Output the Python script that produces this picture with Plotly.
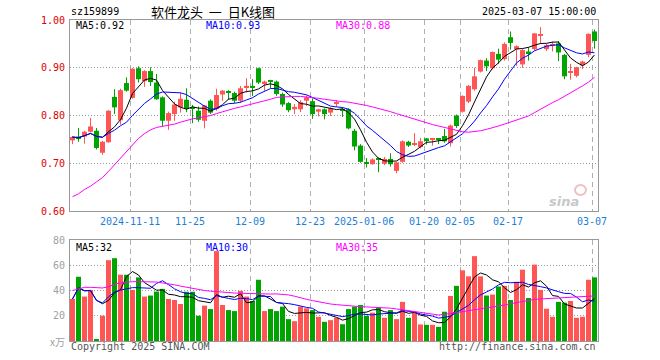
import numpy as np
import pandas as pd
import plotly.graph_objects as go

# ---------------- data ----------------
opens = [0.748, 0.756, 0.756, 0.766, 0.768, 0.722, 0.744, 0.839, 0.790, 0.868,
         0.837, 0.899, 0.872, 0.893, 0.869, 0.838, 0.789, 0.803, 0.817, 0.833,
         0.816, 0.810, 0.789, 0.831, 0.814, 0.844, 0.851, 0.847, 0.831, 0.859,
         0.862, 0.899, 0.867, 0.874, 0.871, 0.845, 0.826, 0.813, 0.813, 0.831,
         0.830, 0.808, 0.813, 0.806, 0.826, 0.813, 0.813, 0.768, 0.737, 0.701,
         0.698, 0.709, 0.699, 0.709, 0.684, 0.703, 0.745, 0.740, 0.734, 0.752,
         0.749, 0.751, 0.757, 0.742, 0.800, 0.808, 0.829, 0.855, 0.892, 0.915,
         0.899, 0.929, 0.918, 0.964, 0.939, 0.907, 0.934, 0.939, 0.968, 0.939,
         0.946, 0.951, 0.927, 0.891, 0.883, 0.905, 0.927, 0.976]
highs = [0.757, 0.774, 0.768, 0.795, 0.774, 0.747, 0.811, 0.855, 0.856, 0.880,
         0.899, 0.903, 0.895, 0.901, 0.887, 0.840, 0.808, 0.829, 0.848, 0.857,
         0.822, 0.819, 0.822, 0.834, 0.856, 0.853, 0.853, 0.850, 0.862, 0.878,
         0.876, 0.900, 0.873, 0.875, 0.873, 0.848, 0.828, 0.824, 0.832, 0.842,
         0.836, 0.814, 0.815, 0.817, 0.832, 0.817, 0.815, 0.772, 0.740, 0.711,
         0.710, 0.712, 0.713, 0.721, 0.703, 0.748, 0.747, 0.763, 0.753, 0.753,
         0.753, 0.752, 0.772, 0.781, 0.802, 0.842, 0.864, 0.900, 0.917, 0.920,
         0.934, 0.940, 0.953, 0.976, 0.947, 0.939, 0.943, 0.973, 0.985, 0.950,
         0.955, 0.956, 0.929, 0.908, 0.902, 0.915, 0.972, 0.980]
lows = [0.740, 0.745, 0.741, 0.765, 0.729, 0.718, 0.743, 0.803, 0.781, 0.850,
        0.835, 0.869, 0.860, 0.862, 0.833, 0.777, 0.770, 0.789, 0.806, 0.807,
        0.784, 0.787, 0.773, 0.803, 0.810, 0.831, 0.833, 0.826, 0.826, 0.848,
        0.841, 0.866, 0.852, 0.857, 0.841, 0.818, 0.807, 0.803, 0.807, 0.820,
        0.793, 0.798, 0.792, 0.799, 0.818, 0.797, 0.771, 0.727, 0.701, 0.691,
        0.697, 0.681, 0.696, 0.693, 0.679, 0.701, 0.734, 0.736, 0.731, 0.739,
        0.737, 0.740, 0.743, 0.735, 0.774, 0.806, 0.826, 0.852, 0.890, 0.893,
        0.897, 0.908, 0.915, 0.938, 0.904, 0.900, 0.915, 0.936, 0.950, 0.935,
        0.934, 0.914, 0.876, 0.875, 0.880, 0.897, 0.922, 0.940]
closes = [0.755, 0.752, 0.766, 0.777, 0.732, 0.745, 0.810, 0.817, 0.853, 0.852,
          0.898, 0.876, 0.893, 0.870, 0.834, 0.789, 0.805, 0.823, 0.835, 0.814,
          0.814, 0.791, 0.821, 0.806, 0.843, 0.852, 0.849, 0.831, 0.857, 0.862,
          0.859, 0.869, 0.871, 0.871, 0.845, 0.823, 0.811, 0.818, 0.828, 0.838,
          0.803, 0.813, 0.803, 0.815, 0.828, 0.811, 0.773, 0.735, 0.703, 0.699,
          0.708, 0.707, 0.709, 0.698, 0.702, 0.746, 0.737, 0.742, 0.746, 0.748,
          0.751, 0.749, 0.746, 0.779, 0.778, 0.841, 0.862, 0.882, 0.916, 0.903,
          0.933, 0.917, 0.950, 0.952, 0.945, 0.937, 0.930, 0.972, 0.970, 0.947,
          0.949, 0.932, 0.882, 0.893, 0.901, 0.913, 0.971, 0.956]
volumes = [33.3, 50.9, 35.2, 40.5, 1.0, 20.0, 64.0, 65.6, 52.5, 52.5,
           40.5, 50.4, 35.2, 36.0, 39.2, 41.3, 33.3, 32.5, 29.3, 39.0,
           39.0, 20.0, 28.0, 25.3, 71.2, 28.5, 24.5, 23.7, 39.7, 35.2,
           31.7, 48.5, 23.7, 25.3, 23.7, 27.2, 17.3, 15.7, 27.2, 25.9,
           24.5, 19.2, 15.2, 16.5, 18.4, 13.3, 25.3, 27.2, 28.5, 20.0,
           22.4, 26.7, 18.4, 24.5, 17.3, 31.0, 18.4, 22.4, 13.1, 12.8,
           12.8, 11.2, 23.2, 35.7, 43.7, 56.0, 51.2, 67.2, 51.2, 36.0,
           36.8, 43.2, 43.7, 32.5, 46.9, 56.5, 34.1, 60.5, 40.5, 25.6,
           19.2, 31.0, 30.4, 31.7, 18.4, 19.2, 48.5, 50.4]
ma30_price = [0.630, 0.636, 0.645, 0.652, 0.661, 0.670, 0.683, 0.697, 0.711, 0.725,
              0.740, 0.752, 0.762, 0.770, 0.775, 0.777, 0.779, 0.782, 0.786, 0.790,
              0.793, 0.795, 0.797, 0.800, 0.804, 0.808, 0.812, 0.815, 0.818, 0.821,
              0.824, 0.828, 0.831, 0.834, 0.838, 0.839, 0.840, 0.840, 0.840, 0.839,
              0.838, 0.836, 0.834, 0.832, 0.830, 0.829, 0.828, 0.826, 0.823, 0.821,
              0.818, 0.815, 0.812, 0.808, 0.804, 0.800, 0.796, 0.792, 0.788, 0.785,
              0.781, 0.778, 0.775, 0.771, 0.768, 0.766, 0.765, 0.766, 0.768, 0.771,
              0.774, 0.778, 0.782, 0.786, 0.790, 0.794, 0.799, 0.806, 0.813, 0.821,
              0.827, 0.833, 0.840, 0.848, 0.855, 0.862, 0.870, 0.880]
ma30_vol = [40.0, 41.5, 42.5, 42.5, 42.0, 42.0, 43.0, 45.0, 46.0, 46.7,
            47.0, 47.0, 47.0, 47.0, 46.7, 46.0, 45.5, 44.5, 43.5, 42.5,
            41.5, 40.5, 40.0, 39.5, 39.0, 38.5, 38.2, 38.0, 37.8, 37.6,
            37.4, 37.2, 37.1, 37.2, 37.3, 37.2, 36.5, 35.5, 34.0, 33.0,
            32.0, 31.0, 30.0, 29.3, 28.8, 28.3, 27.8, 27.5, 27.2, 27.0,
            26.8, 26.7, 26.3, 26.0, 25.4, 24.8, 24.2, 23.7, 23.0, 22.2,
            21.3, 20.6, 21.0, 21.8, 22.5, 23.2, 24.0, 24.8, 25.6, 26.3,
            27.0, 27.7, 28.5, 29.5, 30.5, 31.5, 32.5, 33.0, 33.3, 33.6,
            33.9, 33.9, 34.0, 34.5, 35.0, 35.2, 35.5, 35.7]
tick_index = [10, 20, 30, 40, 49, 59, 65, 73, 87]
tick_labels = ["2024-11-11", "11-25", "12-09", "12-23", "2025-01-06",
               "01-20", "02-05", "02-17", "03-07"]
price_ticks = [0.60, 0.70, 0.80, 0.90, 1.00]
vol_ticks = [20, 40, 60, 80]

# ---------------- derived ----------------
W, H = 660, 360
n = len(closes)
o = np.array(opens); c = np.array(closes); hi = np.array(highs); lo = np.array(lows)
v = np.array(volumes)
xc = np.arange(n) + 5 / 12          # candle centre within its slot
up = c >= o
RED, GREEN = "#ff5555", "#00a400"
cols = np.where(up, RED, GREEN)
body_lo = np.minimum(o, c)
body_h = np.maximum(np.abs(c - o), 0.0021)

ma5 = pd.Series(c).rolling(5, min_periods=1).mean()
ma10 = pd.Series(c).rolling(10, min_periods=1).mean()
vma5 = pd.Series(v).rolling(5, min_periods=1).mean()
vma10 = pd.Series(v).rolling(10, min_periods=1).mean()

MONO = "DejaVu Sans Mono"
CJK = "Noto Sans CJK SC"
fig = go.Figure()

# wicks
for flag, col in ((True, RED), (False, GREEN)):
    xs, ys = [], []
    for i in range(n):
        if up[i] == flag:
            xs += [xc[i], xc[i], None]
            ys += [lo[i], hi[i], None]
    fig.add_trace(go.Scatter(x=xs, y=ys, mode="lines", line=dict(color=col, width=1),
                             hoverinfo="skip", showlegend=False, xaxis="x", yaxis="y"))
# bodies
fig.add_trace(go.Bar(x=xc, y=body_h, base=body_lo, width=5 / 6,
                     marker=dict(color=cols, line=dict(width=0)),
                     hoverinfo="skip", showlegend=False, xaxis="x", yaxis="y"))
# price MAs
for ser, col in ((ma5, "#000000"), (ma10, "#0000ff"), (ma30_price, "#ff00ff")):
    fig.add_trace(go.Scatter(x=xc, y=list(ser), mode="lines", line=dict(color=col, width=1),
                             hoverinfo="skip", showlegend=False, xaxis="x", yaxis="y"))
# volume bars
fig.add_trace(go.Bar(x=xc, y=v, width=5 / 6, marker=dict(color=cols, line=dict(width=0)),
                     hoverinfo="skip", showlegend=False, xaxis="x2", yaxis="y2"))
for ser, col in ((vma5, "#000000"), (vma10, "#0000ff"), (ma30_vol, "#ff00ff")):
    fig.add_trace(go.Scatter(x=xc, y=list(ser), mode="lines", line=dict(color=col, width=1),
                             hoverinfo="skip", showlegend=False, xaxis="x2", yaxis="y2"))


def px(xp):
    return xp / W


def py(yp):
    return 1 - yp / H


x_dom = [px(70), px(598)]
common_x = dict(range=[0, n], domain=x_dom, tickmode="array", tickvals=tick_index,
                showticklabels=False,
                showgrid=True, gridcolor="#b0b0b0", griddash="5px,4px", gridwidth=1,
                showline=True, mirror=True, linecolor="#999999", linewidth=1,
                zeroline=False, ticks="", fixedrange=True)
common_y = dict(tickmode="array", showticklabels=False,
                showgrid=True, gridcolor="#999999", griddash="1px,2px",
                showline=True, mirror=True, linecolor="#999999", linewidth=1,
                zeroline=False, ticks="", fixedrange=True)
fig.update_layout(
    width=W, height=H, margin=dict(l=0, r=0, t=0, b=0),
    paper_bgcolor="white", plot_bgcolor="white", showlegend=False, barmode="overlay",
    xaxis=dict(**common_x, anchor="y"),
    xaxis2=dict(**common_x, anchor="y2"),
    yaxis=dict(**common_y, range=[0.6, 1.0], domain=[py(211), py(20)],
               tickvals=price_ticks, anchor="x"),
    yaxis2=dict(**common_y, range=[0, 80], domain=[py(341), py(240)],
                tickvals=vol_ticks, anchor="x2"),
)


def note(text, x, y, color="#000000", xanchor="left", size=10, family=MONO):
    fig.add_annotation(text=text, x=px(x), y=py(y), xref="paper", yref="paper",
                       xanchor=xanchor, yanchor="middle", showarrow=False,
                       font=dict(family=family, size=size, color=color))


# axis tick labels (placed on the library's data scales)
for t in price_ticks:
    fig.add_annotation(text=f"{t:.2f}", x=px(67), y=t, xref="paper", yref="y",
                       xanchor="right", yanchor="middle", showarrow=False,
                       font=dict(family=MONO, size=10, color="#e00000"))
for t in vol_ticks:
    fig.add_annotation(text=str(t), x=px(67), y=t, xref="paper", yref="y2",
                       xanchor="right", yanchor="middle", showarrow=False,
                       font=dict(family=MONO, size=10, color="#a0a0a0"))
for t, lab in zip(tick_index, tick_labels):
    fig.add_annotation(text=lab, x=t, y=py(221), xref="x", yref="paper",
                       xanchor="center", yanchor="middle", showarrow=False,
                       font=dict(family=MONO, size=10, color="#1e7fd8"))

note("sz159899", 69, 12)
note("软件龙头\u00a0\u00a0一\u00a0\u00a0日K线图", 213, 12, xanchor="center", size=13, family=CJK)
note("2025-03-07 15:00:00", 598, 12, xanchor="right")
note("MA5:0.92", 74, 26)
note("MA10:0.93", 204, 26, color="#0000ff")
note("MA30:0.88", 334, 26, color="#ff00ff")
note("MA5:32", 74, 247)
note("MA10:30", 204, 247, color="#0000ff")
note("MA30:35", 334, 247, color="#ff00ff")
note("x万", 48, 341, color="#a0a0a0", family=CJK, size=10)
note("Copyright 2025 SINA.COM", 69, 346, color="#555555")
note("http://finance.sina.com.cn", 598, 346, color="#555555", xanchor="right")
# sina watermark
fig.add_annotation(text="<b><i>sina</i></b>", x=px(581), y=py(201), xref="paper", yref="paper",
                   showarrow=False, font=dict(family="DejaVu Sans", size=13, color="#c8c8c8"))
fig.add_shape(type="circle", xref="paper", yref="paper", x0=px(575), x1=px(586),
              y0=py(195), y1=py(185), line=dict(color="#efc0c0", width=2),
              fillcolor="rgba(0,0,0,0)")

# remove the default page margin so the figure sits at the window's top-left corner
fig.write_html("out.html", config={"displayModeBar": False},
               post_script="document.body.style.margin='0';")
